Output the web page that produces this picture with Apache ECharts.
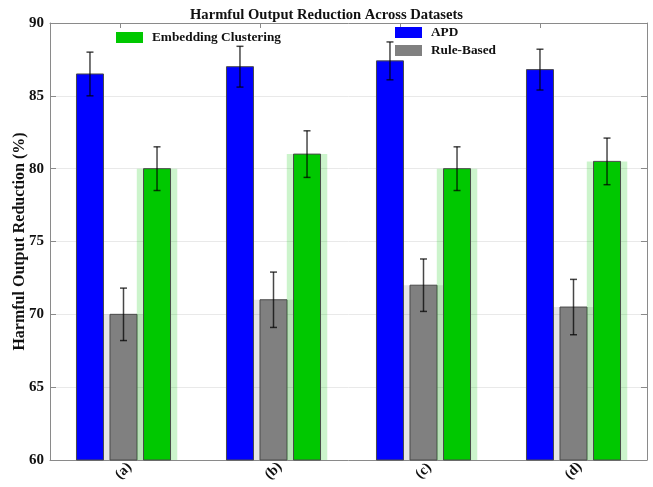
<!DOCTYPE html>
<html>
<head>
<meta charset="utf-8">
<script src="https://cdn.jsdelivr.net/npm/echarts@6/dist/echarts.min.js"></script>
<style>
  html, body { margin: 0; padding: 0; background: #ffffff; }
  #chart { width: 653px; height: 487px; }
</style>
</head>
<body>
<div id="chart"></div>
<script>
// Datasets and measured reductions (%) with their error half-widths
const categories = ['(a)', '(b)', '(c)', '(d)'];
const apd = [86.5, 87.0, 87.4, 86.8];
const apdErr = [1.5, 1.4, 1.3, 1.4];
const ruleBased = [70.0, 71.0, 72.0, 70.5];
const ruleErr = [1.8, 1.9, 1.8, 1.9];
const embedding = [80.0, 81.0, 80.0, 80.5];
const embErr = [1.5, 1.6, 1.5, 1.6];
const yTicks = [60, 65, 70, 75, 80, 85, 90];

const FONT = '"Liberation Serif", "Times New Roman", serif';
const AXIS_COLOR = '#8a8a8a';
const BAR_W = 0.18;     // bar width in x units
const HALO_W = 0.27;    // width of the translucent band behind a bar
const STEP = 0.2235;    // distance between bars inside a group

function barSeries(name, values, errs, offset, color, halo, z) {
  return {
    type: 'custom',
    name: name,
    z: z,
    itemStyle: { color: color },
    data: values.map((v, i) => [i + 1, v, errs[i]]),
    renderItem: function (params, api) {
      const xc = api.value(0) + offset;
      const v = api.value(1);
      const e = api.value(2);
      const top = api.coord([xc, v]);
      const base = api.coord([xc, yTicks[0]]);
      const w = api.size([BAR_W, 0])[0];
      const hw = api.size([HALO_W, 0])[0];
      const hi = api.coord([xc, v + e]);
      const lo = api.coord([xc, v - e]);
      const cap = 3.5;
      const errStyle = { stroke: 'rgba(0,0,0,0.72)', lineWidth: 1.5 };
      const children = [];
      if (halo) {
        children.push({
          type: 'rect',
          shape: { x: top[0] - hw / 2, y: top[1], width: hw, height: base[1] - top[1] },
          style: { fill: color, opacity: 0.2 }
        });
      }
      children.push({
        type: 'rect',
        shape: { x: top[0] - w / 2, y: top[1], width: w, height: base[1] - top[1] },
        style: { fill: color, stroke: '#4a4a4a', lineWidth: 1 }
      });
      children.push({ type: 'line', shape: { x1: top[0], y1: hi[1], x2: top[0], y2: lo[1] }, style: errStyle });
      children.push({ type: 'line', shape: { x1: top[0] - cap, y1: hi[1], x2: top[0] + cap, y2: hi[1] }, style: errStyle });
      children.push({ type: 'line', shape: { x1: top[0] - cap, y1: lo[1], x2: top[0] + cap, y2: lo[1] }, style: errStyle });
      return { type: 'group', children: children };
    }
  };
}

const legendText = { fontFamily: FONT, fontWeight: 'bold', fontSize: 13.3, color: '#111', padding: [0, 0, 0, 4] };

const option = {
  animation: false,
  backgroundColor: '#ffffff',
  title: {
    text: 'Harmful Output Reduction Across Datasets',
    left: 'center',
    top: 3,
    textStyle: { fontFamily: FONT, fontWeight: 'bold', fontSize: 14.6, color: '#111' }
  },
  legend: [
    {
      data: ['Embedding Clustering'],
      left: 116, top: 31, padding: 0,
      itemWidth: 27, itemHeight: 11, icon: 'rect',
      textStyle: legendText
    },
    {
      data: ['APD', 'Rule-Based'],
      orient: 'vertical',
      left: 395, top: 26, padding: 0,
      itemWidth: 27, itemHeight: 11, itemGap: 5, icon: 'rect',
      textStyle: legendText
    }
  ],
  grid: { left: 50, right: 6, top: 23, bottom: 27, containLabel: false, outerBoundsMode: 'none' },
  xAxis: [
    {
      type: 'value', position: 'bottom', min: 0.51, max: 4.49,
      axisLine: { show: true, onZero: false, lineStyle: { color: AXIS_COLOR, width: 1 } },
      axisTick: { show: true, inside: true, length: 5, customValues: [1, 2, 3, 4], lineStyle: { color: AXIS_COLOR } },
      axisLabel: {
        customValues: [1, 2, 3, 4],
        formatter: v => categories[Math.round(v) - 1],
        rotate: 45, align: 'center', verticalAlign: 'middle', margin: 11,
        fontFamily: FONT, fontWeight: 'bold', fontSize: 14.5, color: '#111'
      },
      splitLine: { show: false }
    },
    {
      type: 'value', position: 'top', min: -0.5, max: 3.76,
      axisLine: { show: true, onZero: false, lineStyle: { color: AXIS_COLOR, width: 1 } },
      axisTick: { show: true, inside: true, length: 5, customValues: [0, 1, 2, 3], lineStyle: { color: AXIS_COLOR } },
      axisLabel: { show: false },
      splitLine: { show: false }
    }
  ],
  yAxis: [
    {
      type: 'value', position: 'left', min: yTicks[0], max: yTicks[yTicks.length - 1], interval: 5,
      name: 'Harmful Output Reduction (%)',
      nameLocation: 'middle', nameGap: 22, nameRotate: 90, nameMoveOverlap: false,
      nameTextStyle: { fontFamily: FONT, fontWeight: 'bold', fontSize: 16, color: '#111' },
      axisLine: { show: true, onZero: false, lineStyle: { color: AXIS_COLOR, width: 1 } },
      axisTick: { show: true, inside: true, length: 6, lineStyle: { color: AXIS_COLOR } },
      axisLabel: { fontFamily: FONT, fontWeight: 'bold', fontSize: 15, color: '#111', margin: 6 },
      splitLine: { show: true, lineStyle: { color: '#e9e9e9', width: 1 } }
    },
    {
      type: 'value', position: 'right', min: yTicks[0], max: yTicks[yTicks.length - 1], interval: 5,
      axisLine: { show: true, onZero: false, lineStyle: { color: AXIS_COLOR, width: 1 } },
      axisTick: { show: true, inside: true, length: 6, lineStyle: { color: AXIS_COLOR } },
      axisLabel: { show: false },
      splitLine: { show: false }
    }
  ],
  series: [
    barSeries('APD', apd, apdErr, -STEP, '#0000ff', false, 3),
    barSeries('Rule-Based', ruleBased, ruleErr, 0, '#808080', true, 2),
    barSeries('Embedding Clustering', embedding, embErr, STEP, '#00c800', true, 2)
  ]
};

const chart = echarts.init(document.getElementById('chart'), null, { renderer: 'canvas' });
chart.setOption(option);
</script>
</body>
</html>
